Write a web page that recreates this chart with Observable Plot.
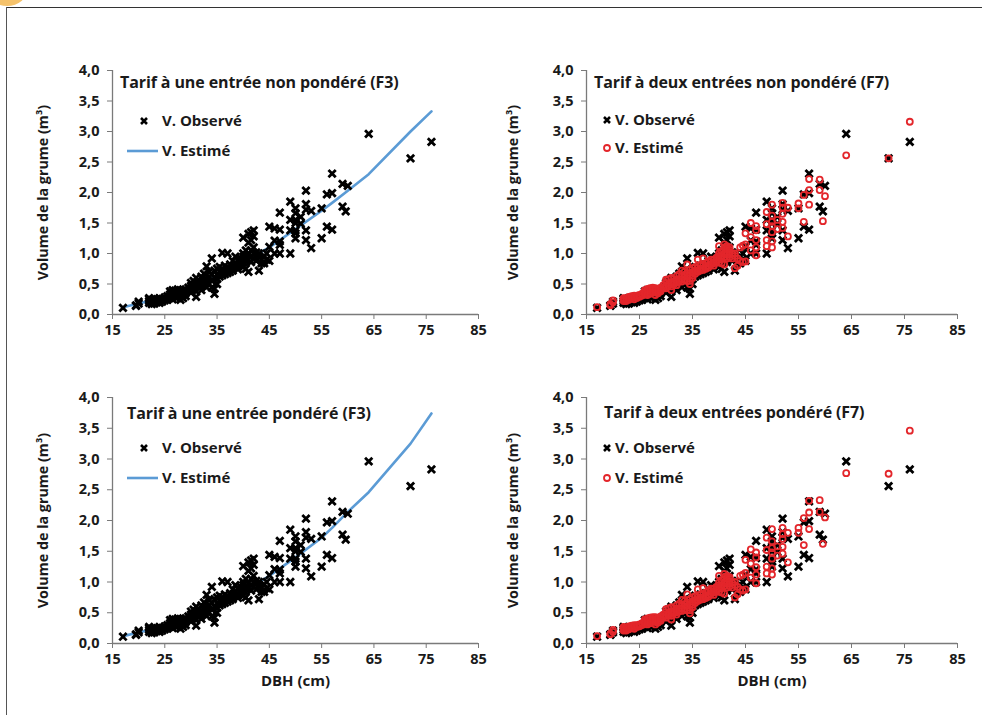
<!DOCTYPE html>
<html>
<head>
<meta charset="utf-8">
<script src="https://cdn.jsdelivr.net/npm/d3@7"></script>
<script src="https://cdn.jsdelivr.net/npm/@observablehq/plot@0.6"></script>
<style>
  html, body { margin: 0; padding: 0; background: #fff; }
  #wrap { position: relative; width: 982px; height: 715px; overflow: hidden; font-family: "Open Sans", Lato, sans-serif; color: #1a1a1a; }
  .panel { position: absolute; }
  .title { position: absolute; font-weight: 700; font-size: 16px; white-space: nowrap; letter-spacing: -0.1px; }
  .leg { position: absolute; font-weight: 700; font-size: 15px; white-space: nowrap; }
</style>
</head>
<body>
<div id="wrap">
  <div style="position:absolute;left:-14px;top:-30px;width:42px;height:36px;border-radius:50%;background:#f5c26b;"></div>
  <div style="position:absolute;left:6px;top:7px;width:976px;height:0;border-top:1.5px solid #333;"></div>
  <div style="position:absolute;left:6px;top:7px;width:0;height:708px;border-left:1.5px solid #555;"></div>
</div>
<script>
// ---- Data ----
const dbh = [17,19.5,19.5,20,20,22,22,22,22,22.5,22.5,22.5,23,23,23,23,23.5,23.5,24,24,24,24,24.5,24.5,25,25,25,25.5,25.5,
26,26,26,26,26.5,26.5,26.5,26.5,27,27,27,27,27.5,27.5,27.5,28,28,28,28,28.5,28.5,28.5,29,29,29,29.5,29.5,
30,30,30,30,30.5,30.5,30.5,31,31,31,31,31.5,31.5,31.5,32,32,32,32,32.5,32.5,32.5,33,33,33,33,33.5,33.5,33.5,
34,34,34,34,34.5,34.5,34.5,34.5,35,35,35,35,35.5,35.5,35.5,36,36,36,36,36.5,36.5,36.5,37,37,37,37,37.5,37.5,37.5,
38,38,38,38.5,38.5,38.5,39,39,39,39.5,39.5,39.5,40,40,40,40,40,40.5,40.5,40.5,40.5,41,41,41,41,41,
41.5,41.5,41.5,41.5,41.5,42,42,42,42,42,42.5,42.5,43,43,43,43.5,43.5,44,44,44.5,44.5,45,45,45,46,46,46,
47,47,47,47,47,49,49,49,49,50,50,50,50,50,50,50,51,51,52,52,52,52,52,53,53,55,55,56,56,57,57,57,59,59,59.6,60,64,72,76];

const observed = [.11,.15,.14,.21,.18,.22,.25,.19,.27,.20,.24,.17,.21,.26,.23,.18,.20,.25,.22,.19,.27,.24,.21,.25,.23,.28,.26,.24,.30,
.27,.33,.38,.30,.29,.36,.40,.25,.31,.35,.39,.28,.33,.37,.41,.24,.30,.36,.40,.32,.38,.27,.35,.41,.30,.39,.44,
.40,.47,.52,.36,.45,.55,.42,.29,.48,.60,.38,.50,.56,.44,.52,.62,.46,.40,.55,.67,.48,.58,.79,.45,.52,.50,.62,.70,
.92,.55,.44,.66,.34,.42,.60,.72,.58,.65,.75,.50,.62,.70,.78,1.01,.68,.74,.64,.70,.80,.66,1.00,.72,.77,.68,.74,.82,.70,
.76,.88,.72,.95,.78,.84,.80,.74,.90,.82,.86,.92,1.26,.85,.95,.78,1.00,.88,1.05,.92,.75,.70,1.32,1.18,.98,.90,
1.35,1.22,1.05,.95,.86,1.38,1.28,1.10,1.00,.92,1.02,.88,.72,.95,1.00,.90,.84,.84,.96,1.00,.90,1.44,1.11,.88,1.41,1.21,1.00,
1.67,1.39,1.14,1.00,1.20,1.85,1.55,1.38,1.00,1.74,1.66,1.55,1.38,1.33,1.25,1.50,1.60,1.49,2.03,1.81,1.72,1.38,1.22,1.70,1.09,1.74,1.25,1.97,1.44,2.31,1.99,1.39,2.14,1.77,1.69,2.11,2.96,2.56,2.83];

const estF7NonPondere = [.12,.17,.15,.23,.20,.24,.26,.22,.27,.25,.27,.22,.26,.29,.28,.24,.27,.30,.28,.25,.31,.29,.27,.31,.29,.32,.30,.31,.34,
.33,.37,.40,.35,.34,.39,.42,.32,.36,.39,.43,.34,.37,.41,.44,.32,.36,.40,.43,.38,.42,.35,.41,.44,.38,.44,.48,
.46,.52,.57,.43,.50,.58,.47,.40,.52,.60,.46,.54,.58,.50,.56,.63,.52,.48,.58,.66,.54,.62,.72,.54,.58,.57,.65,.70,
.82,.62,.55,.68,.50,.55,.65,.73,.64,.69,.76,.60,.67,.72,.78,.90,.72,.76,.70,.74,.80,.72,.92,.76,.80,.73,.78,.84,.75,
.80,.87,.77,.90,.82,.86,.84,.80,.90,.86,.89,.93,1.12,.90,.96,.85,1.00,.93,1.04,.96,.84,.82,1.15,1.10,.99,.94,
1.12,1.08,1.03,.98,.92,1.10,1.06,1.02,.98,.94,1.00,.92,.76,.96,1.00,.92,.80,.88,1.10,1.13,.86,1.33,1.15,.87,1.50,1.27,1.05,
1.45,1.38,1.10,.97,1.22,1.68,1.48,1.22,1.12,1.80,1.62,1.45,1.35,1.20,1.10,1.52,1.40,1.55,1.83,1.75,1.65,1.52,1.42,1.75,1.28,1.82,1.74,1.96,1.52,2.22,2.04,1.80,2.21,2.04,1.53,1.94,2.61,2.56,3.16];

const estF7Pondere = [.12,.16,.15,.22,.19,.23,.25,.21,.27,.24,.26,.21,.25,.28,.27,.23,.26,.29,.27,.24,.30,.28,.27,.30,.28,.31,.30,.30,.33,
.32,.36,.39,.34,.34,.38,.41,.31,.35,.38,.42,.33,.37,.40,.43,.31,.35,.39,.43,.37,.41,.34,.40,.44,.37,.43,.47,
.45,.51,.56,.42,.49,.57,.46,.39,.51,.59,.45,.53,.57,.49,.55,.62,.51,.47,.57,.65,.53,.61,.71,.53,.57,.56,.64,.69,
.80,.61,.54,.67,.49,.54,.64,.72,.63,.68,.75,.59,.66,.71,.77,.88,.71,.75,.69,.73,.79,.71,.90,.75,.79,.72,.77,.83,.74,
.79,.86,.76,.89,.81,.85,.83,.79,.89,.85,.88,.92,1.10,.89,.95,.84,.99,.92,1.03,.95,.83,.81,1.13,1.08,.98,.93,
1.10,1.06,1.02,.97,.91,1.08,1.05,1.01,.97,.93,.99,.91,.75,.95,1.00,.92,.80,.88,1.10,1.12,.86,1.36,1.15,.88,1.53,1.30,1.07,
1.48,1.40,1.12,.98,1.24,1.72,1.52,1.25,1.14,1.86,1.66,1.48,1.38,1.22,1.12,1.55,1.43,1.58,1.88,1.78,1.70,1.57,1.46,1.80,1.32,1.88,1.80,2.04,1.60,2.32,2.13,1.86,2.33,2.14,1.62,2.05,2.77,2.76,3.46];

const curveDbh = [17,20,22,25,30,35,40,45,50,55,57,60,64,72,76];
const curveF3NonPondere = [0.12,0.18,0.22,0.29,0.44,0.63,0.86,1.10,1.40,1.70,1.83,2.03,2.30,3.00,3.33];
const curveF3Pondere    = [0.12,0.18,0.22,0.28,0.42,0.61,0.84,1.10,1.40,1.72,1.88,2.14,2.46,3.25,3.74];

const xTicks = [15,25,35,45,55,65,75,85];
const yTicks = [0,0.5,1,1.5,2,2.5,3,3.5,4];

const titles = ["Tarif à une entrée non pondéré (F3)", "Tarif à deux entrées non pondéré (F7)",
                "Tarif à une entrée pondéré (F3)", "Tarif à deux entrées pondéré (F7)"];
const legendLabels = ["V. Observé", "V. Estimé"];
const yLabel = "Volume de la grume (m³)";
const xLabel = "DBH (cm)";

// ---- Build tables ----
const obsData = dbh.map((d, i) => ({dbh: d, v: observed[i]}));
const estNP = dbh.map((d, i) => ({dbh: d, v: estF7NonPondere[i]}));
const estP = dbh.map((d, i) => ({dbh: d, v: estF7Pondere[i]}));
const curveNP = curveDbh.map((d, i) => ({dbh: d, v: curveF3NonPondere[i]}));
const curveP = curveDbh.map((d, i) => ({dbh: d, v: curveF3Pondere[i]}));

const FONT = "'Open Sans', Lato, sans-serif";
const AXIS = "#7a7a7a";
const BLUE = "#5b9bd5";
const RED = "#e3262b";
const fmt = d => d.toFixed(1).replace(".", ",");

const panels = [
  {left: 0, top: 0, w: 491, h: 357, ml: 112, mr: 13, mt: 70, mb: 43, kind: "line", data: curveNP, bottom: false, lo: 75},
  {left: 491, top: 0, w: 491, h: 357, ml: 95, mr: 25, mt: 70, mb: 43, kind: "dots", data: estNP, bottom: false, lo: 79},
  {left: 0, top: 357, w: 491, h: 358, ml: 112, mr: 13, mt: 40, mb: 72, kind: "line", data: curveP, bottom: true, lo: 75},
  {left: 491, top: 357, w: 491, h: 358, ml: 95, mr: 25, mt: 40, mb: 72, kind: "dots", data: estP, bottom: true, lo: 79}
];

const wrap = document.getElementById("wrap");

panels.forEach((p, k) => {
  const marks = [
    Plot.axisY({ticks: yTicks, tickFormat: fmt, tickSize: 5, tickPadding: 8, stroke: AXIS, fontSize: 14.5, label: null}),
    Plot.axisY({ticks: [], label: yLabel, labelAnchor: "center", labelOffset: p.lo, labelArrow: "none", fontSize: 14.3}),
    Plot.axisX({ticks: xTicks, tickSize: 5, tickPadding: 5, stroke: AXIS, fontSize: 14.5, label: null}),
    Plot.ruleX([15], {stroke: AXIS, strokeWidth: 1.3}),
    Plot.ruleY([0], {stroke: AXIS, strokeWidth: 1.3})
  ];
  if (p.bottom) {
    marks.push(Plot.axisX({ticks: [], label: xLabel, labelAnchor: "center", labelOffset: 42, labelArrow: "none", fontSize: 15}));
  }
  if (p.kind === "line") {
    marks.push(Plot.line(p.data, {x: "dbh", y: "v", stroke: BLUE, strokeWidth: 2.6}));
    marks.push(Plot.dot(obsData, {x: "dbh", y: "v", symbol: "times", r: 3.4, stroke: "#000", strokeWidth: 2.8}));
  } else {
    marks.push(Plot.dot(obsData, {x: "dbh", y: "v", symbol: "times", r: 3.4, stroke: "#000", strokeWidth: 2.8}));
    marks.push(Plot.dot(p.data, {x: "dbh", y: "v", symbol: "circle", r: 3, stroke: RED, strokeWidth: 1.8, fill: "none"}));
  }
  const svg = Plot.plot({
    width: p.w, height: p.h,
    marginLeft: p.ml, marginRight: p.mr, marginTop: p.mt, marginBottom: p.mb,
    x: {domain: [15, 85]},
    y: {domain: [0, 4]},
    style: {fontFamily: FONT, fontWeight: "700", color: "#1a1a1a", background: "transparent", overflow: "visible"},
    marks
  });
  svg.classList.add("panel");
  svg.style.left = p.left + "px";
  svg.style.top = p.top + "px";
  svg.style.position = "absolute";
  wrap.appendChild(svg);
});

// ---- Titles and legends ----
const titlePos = [[120, 71], [594, 71], [127, 402], [604, 401]];
titles.forEach((t, k) => {
  const d = document.createElement("div");
  d.className = "title";
  d.textContent = t;
  d.style.left = titlePos[k][0] + "px";
  d.style.top = titlePos[k][1] + "px";
  wrap.appendChild(d);
});

function markerSvg(type) {
  if (type === "x") return '<svg width="12" height="12" viewBox="-6 -6 12 12"><path d="M-3,-3L3,3M3,-3L-3,3" stroke="#000" stroke-width="2.6"/></svg>';
  if (type === "o") return '<svg width="12" height="12" viewBox="-6 -6 12 12"><circle r="3" fill="none" stroke="' + RED + '" stroke-width="1.8"/></svg>';
  return '<svg width="32" height="12" viewBox="0 0 32 12"><line x1="0" y1="6" x2="31" y2="6" stroke="' + BLUE + '" stroke-width="2.6"/></svg>';
}
const legends = [
  {rows: [["x", 138, 121, 162], ["line", 127, 151, 162]]},
  {rows: [["x", 601, 120, 615], ["o", 601, 148, 615]]},
  {rows: [["x", 138, 448, 162], ["line", 127, 478, 162]]},
  {rows: [["x", 601, 448, 615], ["o", 601, 478, 615]]}
];
legends.forEach(L => {
  L.rows.forEach((r, i) => {
    const m = document.createElement("div");
    m.style.position = "absolute";
    m.style.left = r[1] + "px";
    m.style.top = (r[2] - 6) + "px";
    m.style.lineHeight = "0";
    m.innerHTML = markerSvg(r[0]);
    wrap.appendChild(m);
    const t = document.createElement("div");
    t.className = "leg";
    t.textContent = legendLabels[i];
    t.style.left = r[3] + "px";
    t.style.top = (r[2] - 11) + "px";
    wrap.appendChild(t);
  });
});
</script>
</body>
</html>
